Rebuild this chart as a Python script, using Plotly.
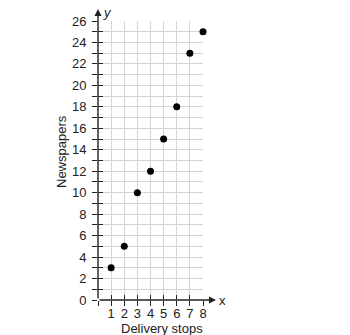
import plotly.graph_objects as go

stops = [1, 2, 3, 4, 5, 6, 7, 8]
newspapers = [3, 5, 10, 12, 15, 18, 23, 25]
y_tickvals = list(range(0, 27))
y_ticktext = [str(v) if v % 2 == 0 else "" for v in y_tickvals]
x_tickvals = list(range(1, 9))
x_ticktext = [str(v) for v in x_tickvals]

W, H = 350, 335
L, R, T, B = 98, 147, 21, 35

fig = go.Figure()
fig.add_trace(go.Scatter(x=stops, y=newspapers, mode="markers",
                         marker=dict(color="black", size=7), showlegend=False, cliponaxis=False))
# invisible trace for inside ticks
fig.add_trace(go.Scatter(x=[0], y=[0], mode="markers", marker=dict(opacity=0),
                         xaxis="x2", yaxis="y2", showlegend=False, hoverinfo="skip"))

font = dict(family="Liberation Sans, Arial", size=13, color="#222")
grid = "#d4d4d4"
fig.update_layout(
    width=W, height=H, margin=dict(l=L, r=R, t=T, b=B),
    paper_bgcolor="white", plot_bgcolor="white", font=font,
    xaxis=dict(range=[0, 8], tickvals=list(range(0, 9)),
               ticktext=[""] + x_ticktext, showgrid=True, gridcolor=grid, gridwidth=1,
               ticks="outside", ticklen=5, tickcolor="#222", tickwidth=1.3,
               showline=False, zeroline=False, fixedrange=True, tickfont=font,
               ticklabelstandoff=-4),
    yaxis=dict(range=[0, 26], tickvals=y_tickvals, ticktext=y_ticktext,
               showgrid=True, gridcolor=grid, gridwidth=1,
               ticks="outside", ticklen=5, tickcolor="#222", tickwidth=1.3,
               showline=False, zeroline=False, tickfont=font, ticklabelstandoff=3),
    xaxis2=dict(range=[0, 8], overlaying="x", tickvals=x_tickvals, showticklabels=False,
                ticks="inside", ticklen=5, tickcolor="#222", tickwidth=1.3,
                showgrid=False, zeroline=False, showline=False),
    yaxis2=dict(range=[0, 26], overlaying="y", tickvals=y_tickvals, showticklabels=False,
                ticks="inside", ticklen=5, tickcolor="#222", tickwidth=1.3,
                showgrid=False, zeroline=False, showline=False),
)

# axis lines with arrows
fig.add_annotation(xref="paper", yref="paper", x=0, y=1 + 12 / 279, ax=0, ay=291,
                   axref="pixel", ayref="pixel", text="", showarrow=True,
                   arrowhead=2, arrowsize=1, arrowwidth=1.4, arrowcolor="#222")
fig.add_annotation(xref="paper", yref="paper", x=1 + 13 / 105, y=0, ax=-118, ay=0,
                   text="", showarrow=True, arrowhead=2, arrowsize=1, arrowwidth=1.4, arrowcolor="#222")
fig.add_annotation(xref="paper", yref="paper", x=1 + 19 / 105, y=0, text="x", showarrow=False,
                   xanchor="center", yanchor="middle", font=dict(family="Liberation Sans", size=13, color="#222"))
fig.add_annotation(xref="paper", yref="paper", x=9 / 105, y=1 + 9 / 279, text="<i>y</i>", showarrow=False,
                   xanchor="center", yanchor="middle", font=dict(family="Liberation Sans", size=13, color="#222"))
fig.add_annotation(xref="paper", yref="paper", x=-37 / 105, y=(300 - 152) / 279, text="Newspapers",
                   textangle=-90, showarrow=False, xanchor="center", yanchor="middle", font=font)
fig.add_annotation(xref="paper", yref="paper", x=(162 - 98) / 105, y=-28 / 279, text="Delivery stops",
                   showarrow=False, xanchor="center", yanchor="middle", font=font)

fig.write_html("out.html")
